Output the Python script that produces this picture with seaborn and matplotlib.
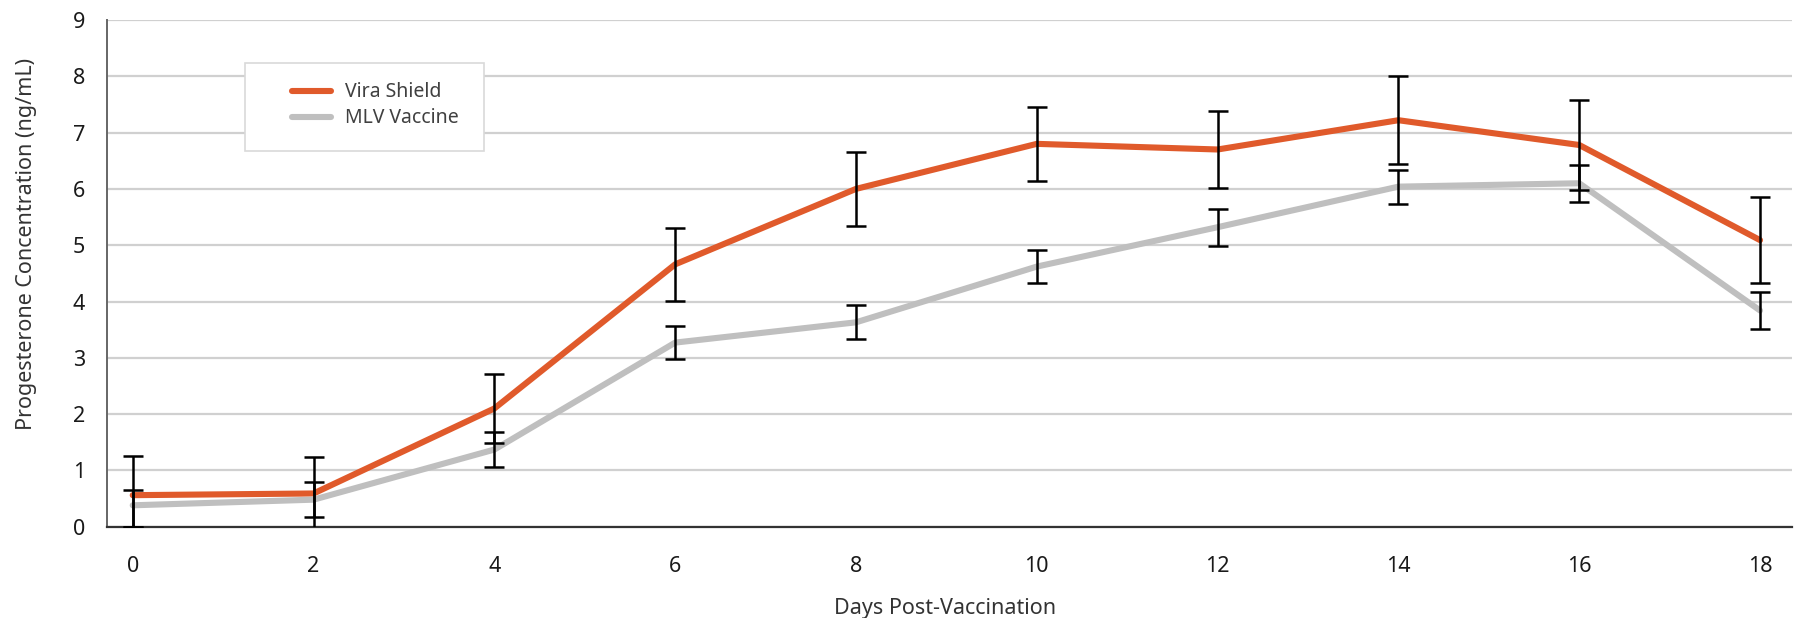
import matplotlib
matplotlib.use("Agg")
import matplotlib.pyplot as plt
import seaborn as sns
import pandas as pd
from matplotlib.patches import Rectangle
from matplotlib.lines import Line2D

days = [0, 2, 4, 6, 8, 10, 12, 14, 16, 18]
vira = [0.56, 0.59, 2.10, 4.66, 6.00, 6.80, 6.70, 7.22, 6.78, 5.09]
vira_err_hi = [0.70, 0.65, 0.61, 0.65, 0.66, 0.66, 0.68, 0.78, 0.80, 0.77]
vira_err_lo = [0.56, 0.65, 0.61, 0.65, 0.66, 0.66, 0.68, 0.78, 0.80, 0.77]
mlv = [0.38, 0.48, 1.37, 3.27, 3.63, 4.62, 5.32, 6.04, 6.10, 3.84]
mlv_err_hi = [0.28, 0.31, 0.31, 0.30, 0.30, 0.30, 0.33, 0.30, 0.33, 0.33]
mlv_err_lo = [0.38, 0.31, 0.31, 0.30, 0.30, 0.30, 0.33, 0.30, 0.33, 0.33]
series_names = ["Vira Shield", "MLV Vaccine"]
colors = ["#E05A2B", "#BFBFBF"]

df = pd.concat([
    pd.DataFrame({"Day": days, "Value": vira, "Series": series_names[0]}),
    pd.DataFrame({"Day": days, "Value": mlv, "Series": series_names[1]}),
])

sns.set_theme(style="white")
plt.rcParams["font.family"] = ["Noto Sans", "DejaVu Sans"]

W, H = 1800, 618
L, R, T, B = 107.3, 1791.7, 20.0, 526.7
fig = plt.figure(figsize=(W / 100, H / 100), dpi=100)
ax = fig.add_axes([L / W, 1 - B / H, (R - L) / W, (B - T) / H])
aw, ah = R - L, B - T

sns.lineplot(data=df, x="Day", y="Value", hue="Series", palette=colors,
             hue_order=series_names, linewidth=4.4, ax=ax, legend=False,
             zorder=3)

ax.errorbar(days, vira, yerr=[vira_err_lo, vira_err_hi], fmt="none", ecolor="black",
            elinewidth=1.8, capsize=7.5, capthick=1.8, zorder=4)
ax.errorbar(days, mlv, yerr=[mlv_err_lo, mlv_err_hi], fmt="none", ecolor="black",
            elinewidth=1.8, capsize=7.5, capthick=1.8, zorder=4)

ax.set_xlim(-0.281, 18.35)
ax.set_ylim(0, 9)
ax.set_xticks(days)
ax.set_yticks(range(0, 10))
ax.yaxis.grid(True, color="#D0D0D0", linewidth=1.6)
ax.xaxis.grid(False)
ax.set_axisbelow(True)
ax.tick_params(axis="both", length=0, labelsize=15.5, labelcolor="#1a1a1a")
ax.tick_params(axis="y", pad=16)
ax.tick_params(axis="x", pad=21)
for s in ["top", "right"]:
    ax.spines[s].set_visible(False)
ax.spines["left"].set_color("#666666")
ax.spines["left"].set_linewidth(1.4)
ax.spines["bottom"].set_color("#333333")
ax.spines["bottom"].set_linewidth(1.6)

ax.set_xlabel("Days Post-Vaccination", fontsize=15.5, color="#333333")
ax.set_ylabel("Progesterone Concentration (ng/mL)", fontsize=15.5, color="#333333")
ax.xaxis.label.set_va("baseline")
ax.xaxis.set_label_coords((945.5 - L) / aw, (B - 614) / ah)
ax.yaxis.set_label_coords((37 - L) / aw, (B - 244) / ah)

# legend frame
x0, x1 = (245 - L) / aw, (484 - L) / aw
y0, y1 = (B - 151) / ah, (B - 63) / ah
ax.add_patch(Rectangle((x0, y0), x1 - x0, y1 - y0, transform=ax.transAxes,
                       facecolor="white", edgecolor="#D9D9D9", linewidth=1.2,
                       zorder=5))
handles = [Line2D([0], [0], color=c, linewidth=4.4) for c in colors]
leg = ax.legend(handles, series_names, loc="center left",
                bbox_to_anchor=((292 - L) / aw, (B - 105.4) / ah),
                frameon=False, fontsize=14, handlelength=2.0, handletextpad=0.72,
                labelspacing=0.3, borderaxespad=0, borderpad=0)
leg.set_zorder(6)
for t in leg.get_texts():
    t.set_color("#404040")

fig.savefig("out.png", dpi=100)
